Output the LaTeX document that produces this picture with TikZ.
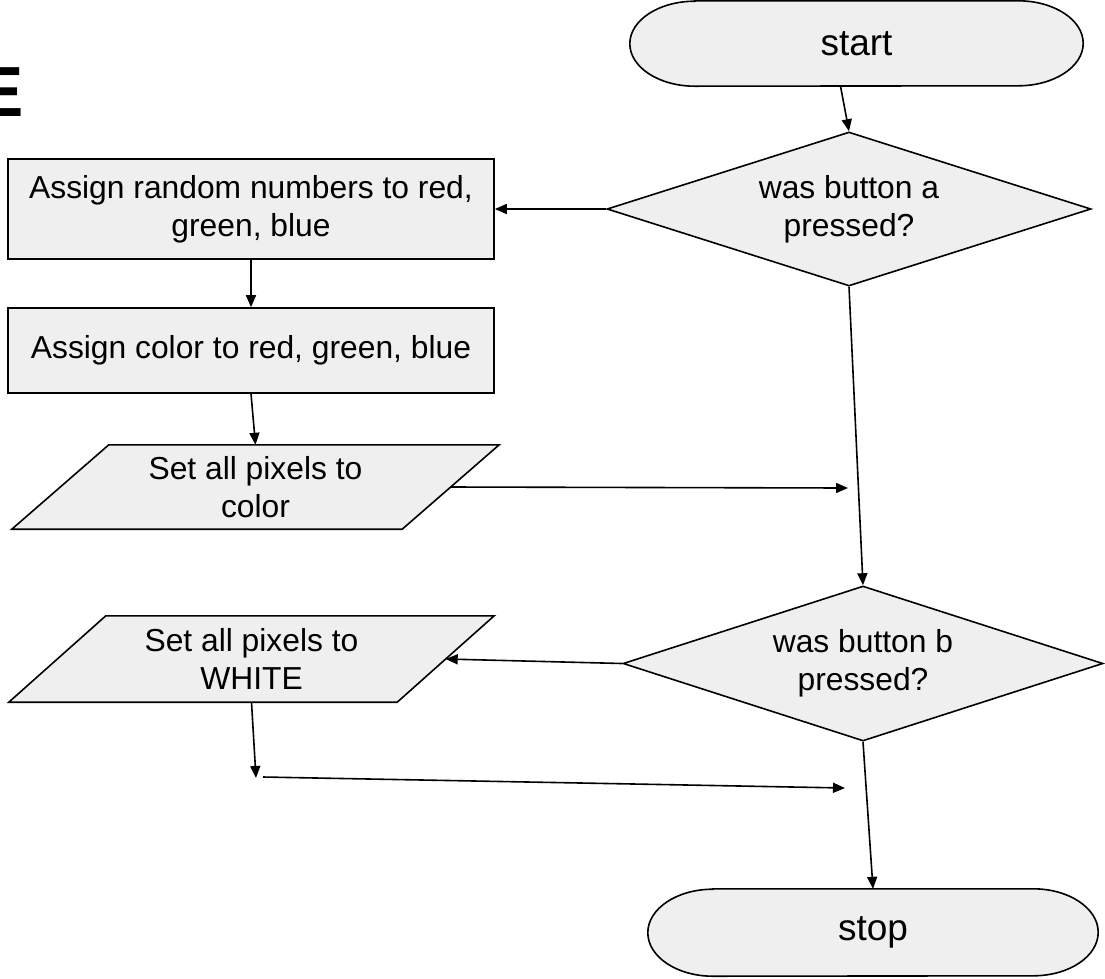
\documentclass[tikz,border=0pt]{standalone}
\usepackage{fontspec}
\setmainfont{Liberation Sans}
\usetikzlibrary{arrows.meta,shapes.geometric,backgrounds}
\definecolor{boxfill}{HTML}{EFEFEF}
\begin{document}
\begin{tikzpicture}[x=1pt,y=-1pt,
  every node/.style={font=\fontsize{31.8}{38}\selectfont, align=center, inner sep=0pt},
  termtext/.style={font=\fontsize{37}{44}\selectfont},
  shapeline/.style={draw=black, line width=1.6pt, fill=boxfill},
  conn/.style={line width=1.6pt, -{Triangle[length=12pt,width=10pt]}}]
\useasboundingbox (0,0) rectangle (1105,978);

% partial logo letter at the left edge
\node (logo) [font=\fontsize{71}{71}\selectfont\bfseries, anchor=base west] at (-23.7,116) {E};

% terminals
\node (st) [termtext, minimum width=453pt, minimum height=85pt] at (856.5,43.5) {start};
\node (sp) [termtext, minimum width=450pt, minimum height=87pt] at (873,932.5) {stop};

% decisions
\node (d1) [diamond, shapeline, shape aspect=3.14, minimum width=484pt, minimum height=154pt] at (849,209) {was button a\\pressed?};
\node (d2) [diamond, shapeline, shape aspect=3.1, minimum width=480pt, minimum height=155pt] at (863,663.5) {was button b\\pressed?};

% processes
\node (r1) [shapeline, minimum width=486pt, minimum height=100pt] at (251,209) {Assign random numbers to red,\\green, blue};
\node (r2) [shapeline, minimum width=486pt, minimum height=85pt] at (251,350.5) {Assign color to red, green, blue};

% input/output
\node (p1) [minimum width=390pt, minimum height=84pt] at (255.5,487) {Set all pixels to\\color};
\node (p2) [minimum width=388pt, minimum height=86pt] at (251.5,659) {Set all pixels to\\WHITE};

\begin{pgfonlayer}{background}
  \draw[shapeline] ([xshift=65pt]st.north west) -- ([xshift=-65pt]st.north east)
    arc[start angle=90,end angle=-90,x radius=65pt,y radius=42.5pt]
    -- ([xshift=65pt]st.south west)
    arc[start angle=270,end angle=90,x radius=65pt,y radius=42.5pt] -- cycle;
  \draw[shapeline] ([xshift=65pt]sp.north west) -- ([xshift=-65pt]sp.north east)
    arc[start angle=90,end angle=-90,x radius=65pt,y radius=43.5pt]
    -- ([xshift=65pt]sp.south west)
    arc[start angle=270,end angle=90,x radius=65pt,y radius=43.5pt] -- cycle;
  \draw[shapeline] ([xshift=48.5pt]p1.north west) -- ([xshift=48.5pt]p1.north east)
    -- ([xshift=-48.5pt]p1.south east) -- ([xshift=-48.5pt]p1.south west) -- cycle;
  \draw[shapeline] ([xshift=48.5pt]p2.north west) -- ([xshift=48.5pt]p2.north east)
    -- ([xshift=-48.5pt]p2.south east) -- ([xshift=-48.5pt]p2.south west) -- cycle;
\end{pgfonlayer}

% free ends
\coordinate (e1) at (848,488);
\coordinate (c1) at (256,778);
\coordinate (c2) at (263,777);
\coordinate (c3) at (845,788);

% connectors
\draw[conn] ([xshift=-16pt]st.south) -- (d1.north);
\draw[conn] (d1.west) -- (r1.east);
\draw[conn] (r1.south) -- (r2.north);
\draw[conn] (r2.south) -- (p1.north);
\draw[conn] (p1.east) -- (e1);
\draw[conn] (d1.south) -- (d2.north);
\draw[conn] (d2.west) -- (p2.east);
\draw[conn] (p2.south) -- (c1);
\draw[conn] (c2) -- (c3);
\draw[conn] (d2.south) -- (sp.north);
\end{tikzpicture}
\end{document}
